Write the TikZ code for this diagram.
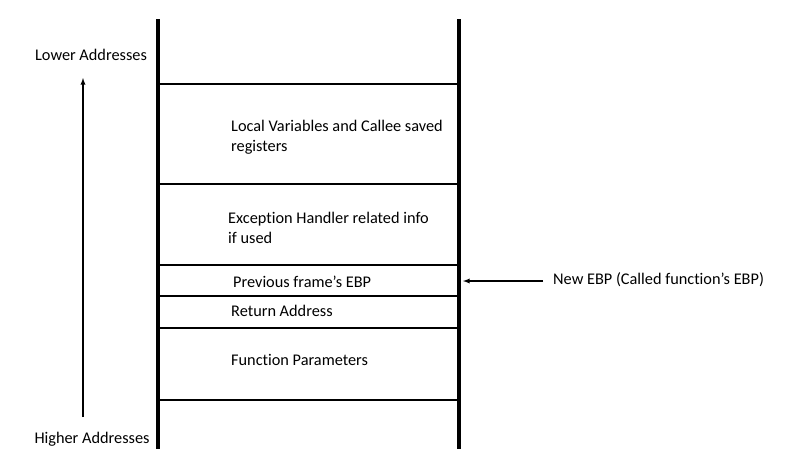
\documentclass[tikz,border=0pt]{standalone}
\usepackage{fontspec}
\setmainfont{Carlito}[Ligatures=NoCommon]
\usepackage{tikz}
\usetikzlibrary{arrows}
\usetikzlibrary{positioning}

\tikzset{
  lbl/.style={inner sep=0pt, font=\fontsize{16.3}{20}\selectfont},
  txt/.style={lbl, anchor=west, align=left},
  wall/.style={line width=4.5pt},
  slot/.style={line width=2pt},
  ptr/.style={line width=1.3pt, ->},
}

\begin{document}
\begin{tikzpicture}[x=1pt, y=-1pt, >=latex]
  \useasboundingbox (0,0) rectangle (786,464);

%%%%%%%%%%%% Stack walls
  \draw[wall] (158, 19) -- (158, 449);
  \draw[wall] (459, 19) -- (459, 449);
  \foreach \y in {84,184,265,296,328,400}
    \draw[slot] (160, \y) -- (457, \y);

%%%%%%%%%%%% Frame contents
  \node[txt] (locals) at (231, 137) {Local Variables and Callee saved\\registers};
  \node[txt] (handler) at (228, 228) {Exception Handler related info\\if used};
  \node[txt] (prevebp) at (233, 282) {Previous frame’s EBP};
  \node[txt] (retaddr) at (231, 311) {Return Address};
  \node[txt] (params) at (231, 360) {Function Parameters};

%%%%%%%%%%%% Addresses
  \node[lbl] (lower) at (91, 55) {Lower Addresses};
  \node[lbl] (higher) at (92, 439) {Higher Addresses};
  \coordinate (up0) at (83, 417);
  \coordinate (up1) at (83, 78);
  \draw[ptr] (up0) -- (up1);

%%%%%%%%%%%% New EBP
  \node[txt] (newebp) at (553, 280) {New EBP (Called function’s EBP)};
  \coordinate (ebp) at (463, 281);
  \draw[ptr] (newebp.west |- ebp) ++(-10, 0) coordinate (ebp0) -- (ebp);
\end{tikzpicture}
\end{document}
